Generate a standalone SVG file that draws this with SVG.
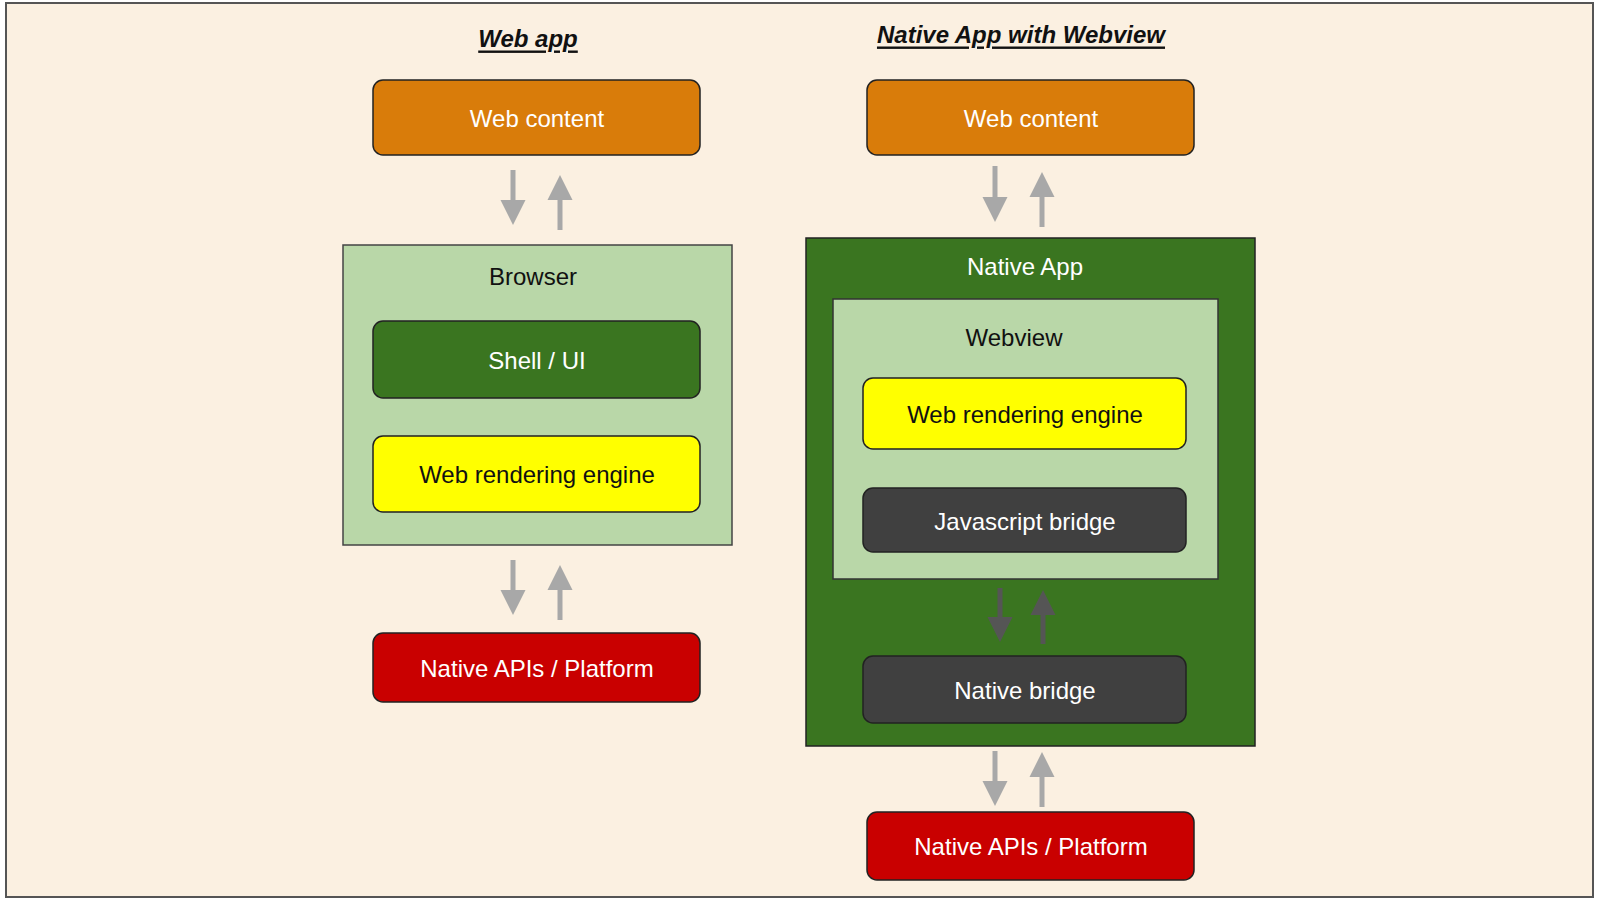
<svg xmlns="http://www.w3.org/2000/svg" width="1600" height="900" viewBox="0 0 1600 900">
<style>
text{font-family:"Liberation Sans",Arial,sans-serif;font-size:24px;text-anchor:middle;dominant-baseline:central}
.t{font-weight:bold;font-style:italic;text-decoration:underline;fill:#111}
.b{stroke:#222;stroke-width:1.5}
.o{fill:#D97C0A}.g{fill:#3A7520}.y{fill:#FFFF00}.r{fill:#C90000}.d{fill:#404040}.lg{fill:#B9D7A8}
.w{fill:#fff}.k{fill:#111}
.a{stroke:#A8A8A8;stroke-width:5;fill:none}
.ad{stroke:#555;stroke-width:5;fill:none}
</style>
<defs>
<marker id="ah" viewBox="0 0 10 10" refX="2" refY="5" markerWidth="5" markerHeight="6" orient="auto" markerUnits="strokeWidth"><path d="M0,0L10,5L0,10z" fill="#A8A8A8"/></marker>
<marker id="ahd" viewBox="0 0 10 10" refX="2" refY="5" markerWidth="5" markerHeight="6" orient="auto" markerUnits="strokeWidth"><path d="M0,0L10,5L0,10z" fill="#555"/></marker>
</defs>
<rect x="6" y="3" width="1587" height="894" fill="#FBF0E1" stroke="#555" stroke-width="2"/>
<text class="t" x="528" y="38">Web app</text>
<text class="t" x="1021" y="34">Native App with Webview</text>
<g id="browser"><rect class="lg" x="343" y="245" width="389" height="300" stroke="#444" stroke-width="1.5"/><text class="k" x="533" y="276">Browser</text></g>
<g id="nativeapp"><rect class="g" x="806" y="238" width="449" height="508" stroke="#222" stroke-width="1.5"/><text class="w" x="1025" y="266">Native App</text></g>
<g id="webview"><rect class="lg" x="833" y="299" width="385" height="280" stroke="#333" stroke-width="1.5"/><text class="k" x="1014" y="337">Webview</text></g>
<g id="wc1"><rect class="o b" x="373" y="80" width="327" height="75" rx="10"/><text class="w" x="537" y="118">Web content</text></g>
<g id="shell"><rect class="g b" x="373" y="321" width="327" height="77" rx="10"/><text class="w" x="537" y="360">Shell / UI</text></g>
<g id="wre1"><rect class="y b" x="373" y="436" width="327" height="76" rx="10"/><text class="k" x="537" y="474">Web rendering engine</text></g>
<g id="napi1"><rect class="r b" x="373" y="633" width="327" height="69" rx="10"/><text class="w" x="537" y="668">Native APIs / Platform</text></g>
<g id="wc2"><rect class="o b" x="867" y="80" width="327" height="75" rx="10"/><text class="w" x="1031" y="118">Web content</text></g>
<g id="wre2"><rect class="y b" x="863" y="378" width="323" height="71" rx="10"/><text class="k" x="1025" y="414">Web rendering engine</text></g>
<g id="jsb"><rect class="d b" x="863" y="488" width="323" height="64" rx="10"/><text class="w" x="1025" y="521">Javascript bridge</text></g>
<g id="nb"><rect class="d b" x="863" y="656" width="323" height="67" rx="10"/><text class="w" x="1025" y="690">Native bridge</text></g>
<g id="napi2"><rect class="r b" x="867" y="812" width="327" height="68" rx="10"/><text class="w" x="1031" y="846">Native APIs / Platform</text></g>
<g id="connectors">
<path class="a" d="M513,170V205" marker-end="url(#ah)"/>
<path class="a" d="M560,230V195" marker-end="url(#ah)"/>
<path class="a" d="M513,560V595" marker-end="url(#ah)"/>
<path class="a" d="M560,620V585" marker-end="url(#ah)"/>
<path class="a" d="M995,166V202" marker-end="url(#ah)"/>
<path class="a" d="M1042,227V192" marker-end="url(#ah)"/>
<path class="ad" d="M1000,588V622" marker-end="url(#ahd)"/>
<path class="ad" d="M1043,644V610" marker-end="url(#ahd)"/>
<path class="a" d="M995,751V786" marker-end="url(#ah)"/>
<path class="a" d="M1042,807V772" marker-end="url(#ah)"/>
</g>
</svg>
